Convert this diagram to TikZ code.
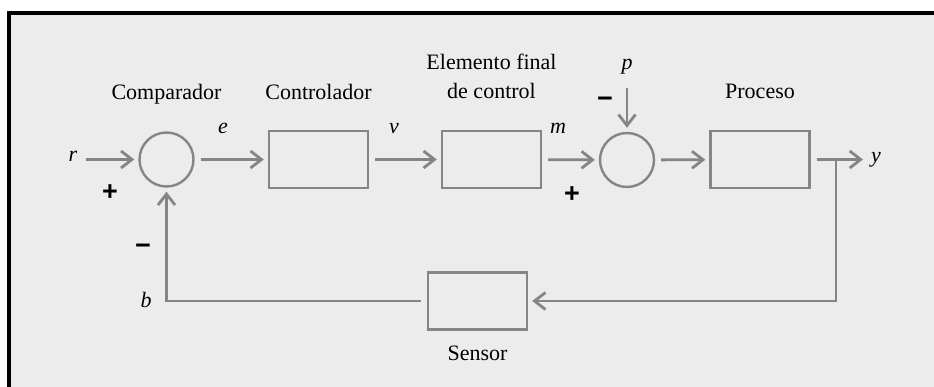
\documentclass[tikz,border=0pt]{standalone}
\usepackage{fontspec}
\setmainfont{Liberation Serif}
\newfontfamily\signfont{Liberation Sans}
\usetikzlibrary{arrows.meta}
\definecolor{panel}{HTML}{ECECEC}
\definecolor{wire}{HTML}{858585}
\begin{document}
\begin{tikzpicture}[x=1pt,y=-1pt,
  block/.style={draw=wire, line width=2.4pt, minimum width=99pt, minimum height=57pt, inner sep=0pt},
  sumnode/.style={draw=wire, line width=2.4pt, circle, minimum size=54pt, inner sep=0pt},
  lbl/.style={font=\fontsize{22}{26}\selectfont, anchor=base, inner sep=0pt},
  sig/.style={font=\fontsize{22}{26}\selectfont\itshape, anchor=base, inner sep=0pt},
  sgn/.style={font=\signfont\bfseries\fontsize{27}{27}\selectfont, inner sep=0pt},
  flow/.style={draw=wire, line width=2.8pt, shorten <=6pt, shorten >=4pt,
    -{Straight Barb[length=11pt,width=17pt,line width=2.8pt]}}
]
\useasboundingbox (0,0) rectangle (934,387);
% page, grey panel and its black frame (top and left edges)
\fill[white] (0,0) rectangle (934,387);
\fill[panel] (9,13) rectangle (934,387);
\draw[line width=4.5pt] (9,387) -- (9,13) -- (934,13);

% blocks and summing junctions
\node[sumnode] (cmp) at (166.5,159.5) {};
\node[block] (ctl) at (318.5,159.5) {};
\node[block] (efc) at (491.5,159.5) {};
\node[sumnode] (sum2) at (627,160) {};
\node[block] (prc) at (760,159.5) {};
\node[block] (sen) at (477.5,301) {};

% free ends of the signal lines
\coordinate (rin) at (80,159.5);
\coordinate (pin) at (627,82);
\coordinate (yout) at (867,159.5);
\coordinate (tap) at (836,159.5);

% forward path
\draw[flow] (rin) -- (cmp);
\draw[flow] (cmp) -- (ctl);
\draw[flow] (ctl) -- (efc);
\draw[flow] (efc) -- (sum2);
\draw[flow] (pin) -- (sum2);
\draw[flow] (sum2) -- (prc);
\draw[flow] (prc) -- (yout);
% feedback path
\draw[flow, shorten <=0pt] (tap) |- (sen.east);
\draw[flow] (sen.west) -| (cmp.south);

% block titles
\node[lbl] (tcmp) at (166.5,100) {Comparador};
\node[lbl] (tctl) at (318.5,100) {Controlador};
\node[lbl] (tefc1) at (491.5,70) {Elemento final};
\node[lbl] (tefc2) at (491.5,99) {de control};
\node[lbl] (tprc) at (760,99) {Proceso};
\node[lbl] (tsen) at (477.5,360) {Sensor};

% signal names
\node[sig] (lr) at (73,162) {r};
\node[sig] (le) at (223,134) {e};
\node[sig] (lv) at (394,134) {v};
\node[sig] (lm) at (558,134) {m};
\node[sig] (lp) at (627,70) {p};
\node[sig] (ly) at (876,163) {y};
\node[sig] (lb) at (146,307) {b};

% signs at the summing junctions
\node[sgn] (s1) at (110,193) {+};
\node[sgn] (s2) at (143,249) {−};
\node[sgn] (s3) at (572,195) {+};
\node[sgn] (s4) at (605,102) {−};
\end{tikzpicture}
\end{document}
